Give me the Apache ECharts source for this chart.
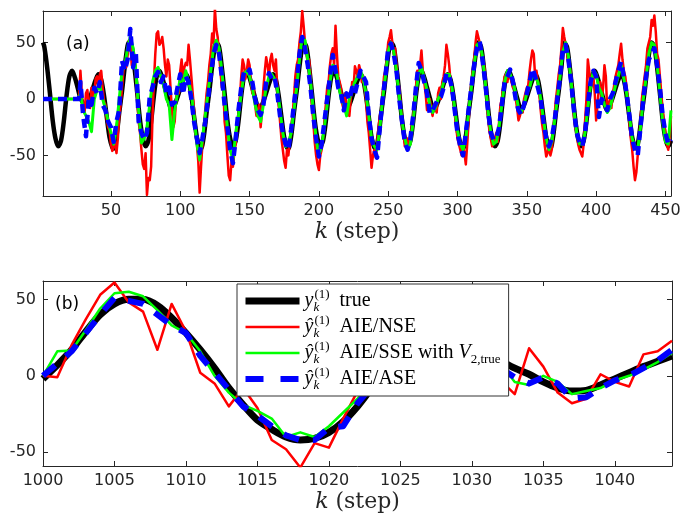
<!DOCTYPE html>
<html><head><meta charset="utf-8">
<script src="https://cdn.jsdelivr.net/npm/echarts@6/dist/echarts.min.js"></script>
<style>html,body{margin:0;padding:0;background:#fff}#c{width:684px;height:521px}</style>
</head><body><div id="c"></div>
<script>
// ---------- panel (a): true output ----------
const kTopTrue = [1,2,4,6,8,10,12,14,16,18,20,22,24,26,28,31,34,37,39,41,43,45,47,49,51,52,54,56,58,60,62,
63,65,67,69,71,73,75,77,79,81,83,85,87,89,91,94,97,100,102,104,106,108,110,112,114,115,117,119,121,123,125,
126,128,130,132,134,136,138,140,142,144,146,148,150,152,154,157,160,163,165,167,169,171,173,175,177,178,180,182,184,186,188,
189,191,193,195,197,199,201,203,205,207,209,211,213,215,217,220,223,226,228,230,232,234,236,238,240,241,243,245,247,249,251,
252,254,256,258,260,262,264,266,268,270,272,274,276,278,280,283,286,289,291,293,295,297,299,301,303,304,306,308,310,312,314,
315,317,319,321,323,325,327,329,331,333,335,337,339,341,343,346,349,352,354,356,358,360,362,364,366,367,369,371,373,375,
377,379,381,383,385,387,389,391,393,395,397,399,401,403,405,408,411,414,416,418,420,422,424,426,428,429,431,433,435,437,439,
440,442,444,446,448,450,452,454];
const yTopTrue = [50,46,28,5,-19,-35,-42,-37,-20,3,20,25,19,10,1,-5,-2,9.5,17,22,17,3,-16,-34,-43,-44,-33,-12,7,29,47,
50,46,28,5,-19,-35,-42,-37,-20,3,20,25,19,10,1,-10,-2,9.5,17,22,17,3,-16,-34,-43,-44,-33,-12,7,29,47,
50,46,28,5,-19,-35,-42,-37,-20,3,20,25,19,10,1,-10,-2,9.5,17,22,17,3,-16,-34,-43,-44,-33,-12,7,29,47,
50,46,28,5,-19,-35,-42,-37,-20,3,20,25,19,10,1,-10,-2,9.5,17,22,17,3,-16,-34,-43,-44,-33,-12,7,29,47,
50,46,28,5,-19,-35,-42,-37,-20,3,20,25,19,10,1,-10,-2,9.5,17,22,17,3,-16,-34,-43,-44,-33,-12,7,29,47,
50,46,28,5,-19,-35,-42,-37,-20,3,20,25,19,10,1,-10,-2,9.5,17,22,17,3,-16,-34,-43,-44,-33,-12,7,29,
50,46,28,5,-19,-35,-42,-37,-20,3,20,25,19,10,1,-10,-2,9.5,17,22,17,3,-16,-34,-43,-44,-33,-12,7,29,47,
50,46,28,5,-19,-35,-42,-37];

// ---------- panel (a): AIE/NSE estimate, one value per step from k = 28 ----------
const kRedFirst = 28;
const yTopNSE = [
25,5,-10,-12,5,8,-5,-8,10,2,5,18,20,12,22,25,10,-2,-5,-18,-25,-28,-40,-46,-45,-38,-48,-35,-15,-5,10,25,30,28,40,52,
50,30,35,38,20,0,-20,-30,-45,-58,-62,-48,-85,-70,-72,-60,-15,15,40,58,60,48,50,55,45,30,20,35,30,10,-10,-25,-20,0,10,5,25,35,20,28,32,30,48,35,20,5,-10,-30,-40,-55,-83,-60,-40,-25,-10,5,15,30,40,58,50,80,
62,55,40,25,10,15,-20,-30,-50,-68,-72,-55,-60,-48,-40,-20,-15,0,20,35,30,18,25,35,30,15,5,10,-5,-15,-15,-5,-25,-10,10,25,37,30,20,35,40,30,25,35,10,-5,-20,-35,-45,-55,-61,-45,-50,-38,-30,-15,0,20,30,35,50,60,78,65,
50,45,30,35,20,-5,-20,-38,-50,-58,-63,-50,-45,-35,-20,-5,10,15,30,40,45,30,65,40,20,15,10,-5,-10,5,-5,-12,-15,0,15,10,29,25,20,30,25,15,20,10,0,-20,-30,-45,-61,-50,-45,-52,-40,-25,-15,-10,5,20,25,35,50,55,
61,50,40,45,30,15,10,-5,-20,-30,-42,-40,-35,-42,-40,-25,-15,-5,10,25,20,30,43,25,15,5,-10,-10,0,-8,-15,-5,-5,-12,5,10,0,15,20,30,48,40,30,15,5,0,-10,-25,-35,-40,-45,-50,-40,-48,-58,-40,-20,0,15,25,35,50,60,55,
55,45,30,32,20,5,-15,-28,-35,-42,-39,-35,-30,-38,-20,-5,0,12,20,22,15,25,20,15,10,12,0,-8,-19,-15,-10,-12,0,5,10,12,25,35,43,40,20,25,15,5,-10,-22,-30,-42,-51,-48,-40,-50,-45,-30,-15,0,10,22,30,45,63,55,
55,42,30,28,20,5,-15,-25,-30,-40,-45,-48,-51,-40,-20,0,35,25,10,18,20,5,-19,-5,10,15,0,10,30,20,-10,-5,0,-8,5,12,20,25,30,40,49,35,25,20,10,-5,-20,-35,-45,-60,-72,-65,-50,-35,-20,0,10,20,30,45,50,55,70,65,74,60,40,35,20,5,-10,-20,-30,-40,-45,-35,-15];

// ---------- panel (a): AIE/SSE and AIE/ASE estimates, every second step ----------
const kTopEst = [1,27,28,30,32,34,36,38,40,42,44,46,48,50,52,54,56,58,60,62,
64,66,68,70,72,74,76,78,80,82,84,86,88,90,92,94,96,98,100,102,104,106,108,110,112,114,116,118,120,122,124,
126,128,130,132,134,136,138,140,142,144,146,148,150,152,154,156,158,160,162,164,166,168,170,172,174,176,178,180,182,184,186,188,
190,192,194,196,198,200,202,204,206,208,210,212,214,216,218,220,222,224,226,228,230,232,234,236,238,240,242,244,246,248,250,
252,254,256,258,260,262,264,266,268,270,272,274,276,278,280,282,284,286,288,290,292,294,296,298,300,302,304,306,308,310,312,314,
316,318,320,322,324,326,328,330,332,334,336,338,340,342,344,346,348,350,352,354,356,358,360,362,364,366,368,370,372,374,376,
378,380,382,384,386,388,390,392,394,396,398,400,402,404,406,408,410,412,414,416,418,420,422,424,426,428,430,432,434,436,438,440,442,444,446,448,450,452,454];
const yTopSSE = [0,0,5,-10,-15,-20,-29,0,8,12,0,-8,-20,-30,-40,-25,0,25,30,45,
55,45,25,-10,-39,-35,-25,-5,15,25,28,20,12,0,-5,-36,-10,5,18,15,25,15,5,-15,-40,-54,-35,-15,5,25,45,
52,45,25,0,-25,-45,-54,-30,-15,5,22,25,20,10,-5,-15,-20,-5,10,20,22,18,10,-10,-30,-42,-40,-30,-10,10,35,55,
52,35,15,-10,-35,-50,-42,-25,-5,15,30,28,15,0,-5,-15,0,8,15,20,25,18,5,-15,-35,-42,-45,-25,0,20,42,
50,42,25,2,-20,-35,-45,-40,-20,5,22,28,18,8,-5,-12,-8,0,5,15,22,22,10,-8,-28,-40,-45,-35,-12,10,30,48,
50,38,15,-10,-30,-40,-38,-25,-5,15,25,22,15,5,-8,-12,-5,5,10,20,20,15,0,-18,-35,-45,-38,-20,0,20,42,
50,38,15,-10,-30,-40,-40,-30,-8,12,25,22,10,5,-5,-12,-8,2,12,20,30,18,5,-15,-35,-42,-45,-25,0,18,40,50,48,30,5,-20,-38,-40,-10];
const yTopASE = [0,0,15,-15,-33,0,-5,10,5,15,-5,-10,-20,-25,-38,-20,-10,34,25,35,
62,28,40,-20,-30,-36,-30,2,10,20,24,15,20,5,10,-5,-3,10,22,4,20,15,0,-20,-35,-48,-35,-20,0,20,40,
48,40,20,-5,-25,-45,-57,-35,-10,10,24,22,26,15,0,-10,-14,-5,15,23,18,20,5,-15,-30,-40,-45,-27,-5,15,40,55,
45,30,10,-15,-35,-51,-40,-20,0,20,39,25,10,5,-10,5,-1,10,5,15,25,20,15,-15,-35,-45,-52,-25,0,20,45,
49,40,25,0,-20,-38,-45,-35,-15,10,32,25,15,5,-13,-10,-5,0,2,10,23,20,10,-10,-30,-42,-50,-30,-10,10,30,45,
51,35,15,-10,-30,-36,-35,-25,-5,15,20,26,15,0,-10,-14,-5,5,15,27,20,10,0,-20,-35,-42,-35,-20,0,20,45,
48,35,15,-10,-30,-38,-42,-30,-5,15,25,20,-16,0,-5,-10,0,5,15,25,33,20,5,-15,-35,-45,-50,-25,0,20,35,40,45,30,10,-15,-30,-40,-36];

// ---------- panel (b) ----------
const kBot = [1000,1001,1002,1003,1004,1005,1006,1007,1008,1009,1010,1011,1012,1013,1014,1015,1016,1017,1018,1019,1020,1021,1022,1023,1024,1025,1026,1027,1028,1029,1030,1031,1032,1033,1034,1035,1036,1037,1038,1039,1040,1041,1042,1043,1044];
const yBotTrue = [-2,7,17,29,40,47,50,50,46,38,28,17,5,-8,-19,-29,-35,-40,-42,-41,-37,-30,-20,-8,3,13,20,24,25,23,19,15,10,5,1,-4,-8,-10,-9.5,-6,-2,2,6,9.5,13];
const yBotNSE = [0,-1,20,37,53,61,48,42,17,47,29,2,-5,-20,-8,-21,-42,-48,-60,-44,-47,-28,-10,0,8,15,20,25,20,14,5,0,-3,-12,18,6,-11,-18,-15,1,-4,-7,14,16,23];
const yBotSSE = [0,16,16.5,30,44,54,55,52,43,33,28,16,0,-11,-19,-23,-28,-40,-37,-40,-33,-24,-15,-5,5,13,19,23,24,22,18,13,8,-4,-6,0,-4,-12,-10,-8,-3,0,4,9,15];
const yBotASE = [0,8,16,28,40,51,49,47,40,33,28,13,2,-9,-20,-26,-33,-39,-42,-42,-34,-33,-18,-7,4,13,20,24,25,23,18,13,5,-1,-5,-1,-5,-15,-14,-8,-3,0,5,10,17];

const xTicksTop = [50,100,150,200,250,300,350,400,450];
const xTicksBot = [1000,1005,1010,1015,1020,1025,1030,1035,1040];
const yTicks = [-50,0,50];

const pairs = (ks, vs) => ks.map((k, i) => [k, vs[i]]);
const redPairs = [[1, 0], [27, 0]].concat(yTopNSE.map((v, i) => [kRedFirst + i, v]));
const AX = '#262626';

function xAxes(grid, min, max, ticks) {
  const base = {type:'value', gridIndex:grid, min:min, max:max, splitLine:{show:false},
    axisLine:{show:true, onZero:false, lineStyle:{color:AX, width:1}},
    axisTick:{show:true, inside:true, length:5, customValues:ticks, lineStyle:{color:AX}}};
  return [
    Object.assign({}, base, {position:'bottom',
      axisLabel:{show:true, customValues:ticks, formatter:(v) => String(v), color:AX, fontSize:16, fontFamily:'DejaVu Sans', margin:7},
      name:'{i|k} (step)', nameLocation:'middle', nameGap:25,
      nameTextStyle:{fontFamily:'DejaVu Serif', fontSize:22, color:AX,
        rich:{i:{fontFamily:'DejaVu Serif', fontStyle:'italic', fontSize:22, color:AX}}}}),
    Object.assign({}, base, {position:'top', axisLabel:{show:false}})
  ];
}
function yAxes(grid, min, max, ticks) {
  const base = {type:'value', gridIndex:grid, min:min, max:max, splitLine:{show:false},
    axisLine:{show:true, onZero:false, lineStyle:{color:AX, width:1}},
    axisTick:{show:true, inside:true, length:5, customValues:ticks, lineStyle:{color:AX}}};
  return [
    Object.assign({}, base, {position:'left',
      axisLabel:{show:true, customValues:ticks, formatter:(v) => String(v), color:AX, fontSize:16, fontFamily:'DejaVu Sans', margin:7}}),
    Object.assign({}, base, {position:'right', axisLabel:{show:false}})
  ];
}

function line(name, data, xi, yi, color, width, dash, smooth) {
  return {name:name, type:'line', xAxisIndex:xi, yAxisIndex:yi, data:data, symbol:'none',
    showSymbol:false, animation:false, z:2, smooth:smooth || false,
    lineStyle:{color:color, width:width, type:dash || 'solid', cap:'butt', join:'round'},
    itemStyle:{color:color}};
}

const richBase = {
  y:{fontFamily:'Liberation Serif', fontStyle:'italic', fontSize:20, lineHeight:26, color:'#000'},
  sub:{fontFamily:'Liberation Serif', fontStyle:'italic', fontSize:13, lineHeight:10, verticalAlign:'bottom', width:1, color:'#000'},
  sup:{fontFamily:'Liberation Serif', fontSize:13, lineHeight:14, verticalAlign:'top', color:'#000'},
  t:{fontFamily:'Liberation Serif', fontSize:20, lineHeight:26, color:'#000'},
  v:{fontFamily:'Liberation Serif', fontStyle:'italic', fontSize:20, lineHeight:26, color:'#000'},
  vs:{fontFamily:'Liberation Serif', fontSize:13, lineHeight:10, verticalAlign:'bottom', color:'#000'}
};
const legendText = {
  'true':'{y|y}{sub|k}{sup|(1)}{t|  true}',
  'NSE':'{y|ŷ}{sub|k}{sup|(1)}{t|  AIE/NSE}',
  'SSE':'{y|ŷ}{sub|k}{sup|(1)}{t|  AIE/SSE with }{v|V}{vs|2,true}',
  'ASE':'{y|ŷ}{sub|k}{sup|(1)}{t|  AIE/ASE}'
};
const hide = {opacity:0, borderWidth:0};

const option = {
  animation:false,
  backgroundColor:'#fff',
  grid:[
    {left:43, right:13, top:11, height:185, containLabel:false},
    {left:43, right:12, top:281, height:185, containLabel:false}
  ],
  xAxis:[...xAxes(0, 1, 454, xTicksTop), ...xAxes(1, 1000, 1044, xTicksBot)],
  yAxis:[...yAxes(0, -86, 78, yTicks), ...yAxes(1, -59, 62, yTicks)],
  legend:{
    show:true, z:20, orient:'vertical', left:237, top:284,
    backgroundColor:'#fff', borderColor:'#333', borderWidth:1, borderRadius:0,
    padding:[4,8,4,5], itemGap:0, itemWidth:54, itemHeight:22, selectedMode:false,
    data:[
      {name:'true', itemStyle:hide, lineStyle:{color:'#000', width:7, type:'solid'}},
      {name:'NSE', itemStyle:hide, lineStyle:{color:'#ff0000', width:2.5, type:'solid'}},
      {name:'SSE', itemStyle:hide, lineStyle:{color:'#00ff00', width:2.5, type:'solid'}},
      {name:'ASE', itemStyle:hide, lineStyle:{color:'#0000ff', width:6, type:[18,17]}}
    ],
    formatter:(n) => legendText[n],
    textStyle:{rich:richBase}
  },
  graphic:[
    {type:'text', left:66, top:36, z:30, style:{text:'(a)', font:'17px "DejaVu Sans"', fill:'#000'}},
    {type:'text', left:55, top:296, z:30, style:{text:'(b)', font:'17px "DejaVu Sans"', fill:'#000'}}
  ],
  series:[
    line('true (a)', pairs(kTopTrue, yTopTrue), 0, 0, '#000', 4.5, null, 0.3),
    line('NSE (a)', redPairs, 0, 0, '#ff0000', 2.5),
    line('SSE (a)', pairs(kTopEst, yTopSSE), 0, 0, '#00ff00', 3),
    line('ASE (a)', pairs(kTopEst, yTopASE), 0, 0, '#0000ff', 4.5, [9,6]),
    line('true', pairs(kBot, yBotTrue), 2, 2, '#000', 7, null, 0.3),
    line('NSE', pairs(kBot, yBotNSE), 2, 2, '#ff0000', 2.5),
    line('SSE', pairs(kBot, yBotSSE), 2, 2, '#00ff00', 2.5),
    line('ASE', pairs(kBot, yBotASE), 2, 2, '#0000ff', 6, [16,14])
  ]
};
const chart = echarts.init(document.getElementById('c'), null, {renderer:'canvas'});
chart.setOption(option);
</script></body></html>
